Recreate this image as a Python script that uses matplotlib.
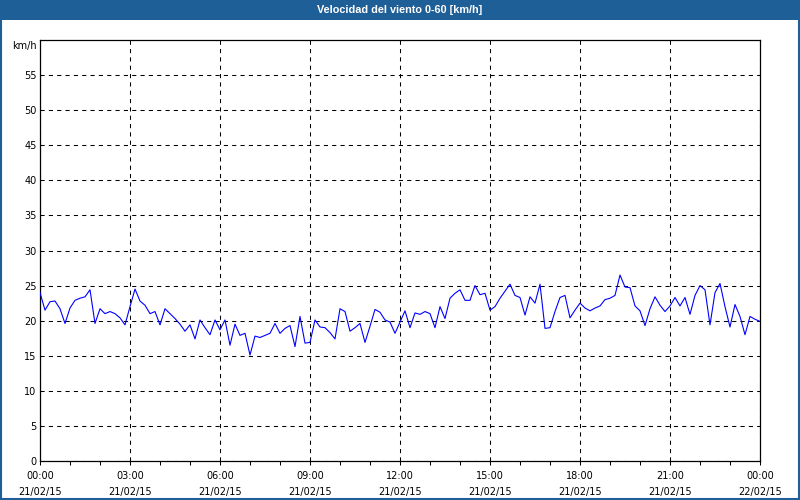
import matplotlib
matplotlib.use("Agg")
import matplotlib.pyplot as plt
import matplotlib.dates as mdates
from matplotlib.patches import Rectangle
import pandas as pd

title = "Velocidad del viento 0-60 [km/h]"
unit_label = "km/h"
start_time = "2015-02-21 00:00"
end_time = "2015-02-22 00:00"
step = "10min"

wind_kmh = [
    24.0, 21.5, 22.7, 22.8, 21.7, 19.6, 21.8, 22.9, 23.2, 23.4,
    24.4, 19.6, 21.7, 21.0, 21.3, 21.0, 20.4, 19.4, 22.0, 24.5,
    22.8, 22.2, 21.0, 21.3, 19.4, 21.7, 21.0, 20.3, 19.5, 18.5,
    19.4, 17.4, 20.1, 19.0, 18.0, 20.1, 18.7, 20.1, 16.5, 19.5,
    17.9, 18.2, 15.1, 17.8, 17.6, 17.9, 18.2, 19.6, 18.2, 18.9,
    19.3, 16.3, 20.6, 16.8, 16.9, 20.1, 19.1, 19.0, 18.3, 17.4,
    21.7, 21.3, 18.5, 19.0, 19.6, 16.9, 19.2, 21.6, 21.2, 20.1,
    19.8, 18.2, 19.8, 21.4, 19.0, 21.1, 20.9, 21.3, 21.0, 19.0,
    22.0, 20.3, 23.2, 23.9, 24.4, 22.9, 22.9, 25.0, 23.7, 23.9,
    21.5, 22.0, 23.2, 24.2, 25.2, 23.6, 23.3, 20.8, 23.4, 22.5,
    25.2, 18.9, 19.0, 21.3, 23.3, 23.6, 20.4, 21.5, 22.5, 21.8,
    21.4, 21.8, 22.1, 23.0, 23.2, 23.6, 26.5, 24.8, 24.7, 22.1,
    21.4, 19.3, 21.7, 23.4, 22.2, 21.3, 22.1, 23.3, 22.1, 23.3,
    20.9, 23.6, 25.0, 24.4, 19.4, 24.0, 25.3, 22.0, 19.1, 22.3,
    20.6, 18.0, 20.6, 20.2, 19.9,
]
y_ticks = [0, 5, 10, 15, 20, 25, 30, 35, 40, 45, 50, 55]
y_max = 60

times = pd.date_range(start_time, periods=len(wind_kmh), freq=step)

bar_color = "#1f5f97"

fig = plt.figure(figsize=(8, 5), dpi=100)
fig.patch.set_facecolor("white")

ax = fig.add_axes([40 / 800, 39 / 500, 720 / 800, 421 / 500])
ax.plot(times, wind_kmh, color="#0000ff", lw=0.8, zorder=3)

ax.set_xlim(pd.Timestamp(start_time), pd.Timestamp(end_time))
ax.set_ylim(0, y_max)
ax.set_yticks(y_ticks)
ax.set_yticklabels([str(v) for v in y_ticks])

ax.xaxis.set_major_locator(mdates.HourLocator(byhour=range(0, 24, 3)))
ax.xaxis.set_minor_locator(mdates.HourLocator())
ax.xaxis.set_major_formatter(mdates.DateFormatter("%H:%M\n%d/%m/%y"))

ax.grid(True, which="major", color="black", linestyle=(0, (4, 4)), linewidth=0.75)
ax.set_axisbelow(True)

for s in ax.spines.values():
    s.set_color("black")
    s.set_linewidth(0.9)

ax.tick_params(axis="y", length=0, pad=2.5, labelsize=7, labelcolor="black")
ax.tick_params(axis="x", which="both", direction="out", length=3, width=0.75,
               pad=4, labelsize=7)
for lbl in ax.get_xticklabels():
    lbl.set_linespacing(1.8)

fig.text(37 / 800, 1 - 46 / 500, unit_label, ha="right", va="center", fontsize=7)

# title bar
fig.patches.append(Rectangle((0, 1 - 20 / 500), 1, 20 / 500, transform=fig.transFigure,
                             facecolor=bar_color, edgecolor="none", zorder=0))
fig.patches.append(Rectangle((0.001, 0.002), 0.998, 0.997, transform=fig.transFigure,
                             facecolor="none", edgecolor=bar_color, lw=1.5, zorder=0))
fig.text(0.5, 1 - 10 / 500, title, ha="center", va="center", color="white",
         fontsize=7.8, fontweight="bold", family="Liberation Sans")

fig.savefig("out.png", dpi=100, facecolor="white")
